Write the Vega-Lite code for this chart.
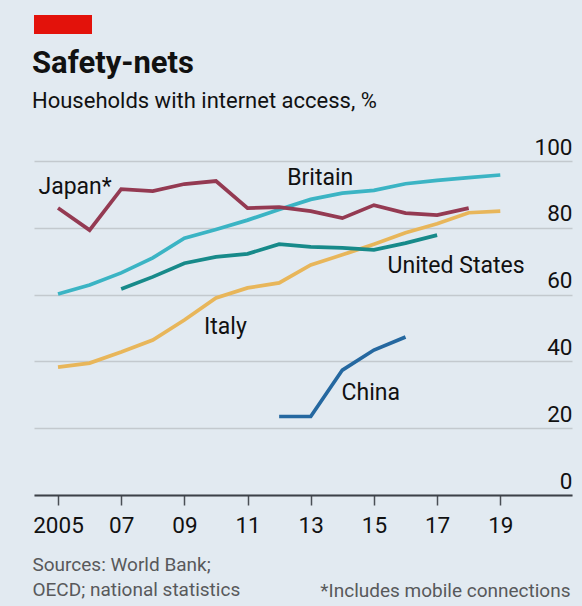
{
  "$schema": "https://vega.github.io/schema/vega-lite/v6.json",
  "background": "#e2eaf1",
  "padding": {"left": 32, "top": 15, "right": 10, "bottom": 6},
  "spacing": 14,
  "config": {"view": {"stroke": null}, "font": "Roboto"},
  "datasets": {
    "series": [
      {"country": "Italy", "year": 2005, "value": 38.3},
      {"country": "Italy", "year": 2006, "value": 39.5},
      {"country": "Italy", "year": 2007, "value": 42.8},
      {"country": "Italy", "year": 2008, "value": 46.4},
      {"country": "Italy", "year": 2009, "value": 52.4},
      {"country": "Italy", "year": 2010, "value": 59.0},
      {"country": "Italy", "year": 2011, "value": 62.0},
      {"country": "Italy", "year": 2012, "value": 63.5},
      {"country": "Italy", "year": 2013, "value": 68.9},
      {"country": "Italy", "year": 2014, "value": 71.9},
      {"country": "Italy", "year": 2015, "value": 75.1},
      {"country": "Italy", "year": 2016, "value": 78.5},
      {"country": "Italy", "year": 2017, "value": 81.2},
      {"country": "Italy", "year": 2018, "value": 84.5},
      {"country": "Italy", "year": 2019, "value": 85.0},
      {"country": "Britain", "year": 2005, "value": 60.2},
      {"country": "Britain", "year": 2006, "value": 62.9},
      {"country": "Britain", "year": 2007, "value": 66.5},
      {"country": "Britain", "year": 2008, "value": 71.0},
      {"country": "Britain", "year": 2009, "value": 76.9},
      {"country": "Britain", "year": 2010, "value": 79.5},
      {"country": "Britain", "year": 2011, "value": 82.3},
      {"country": "Britain", "year": 2012, "value": 85.5},
      {"country": "Britain", "year": 2013, "value": 88.5},
      {"country": "Britain", "year": 2014, "value": 90.4},
      {"country": "Britain", "year": 2015, "value": 91.2},
      {"country": "Britain", "year": 2016, "value": 93.2},
      {"country": "Britain", "year": 2017, "value": 94.2},
      {"country": "Britain", "year": 2018, "value": 95.0},
      {"country": "Britain", "year": 2019, "value": 95.8},
      {"country": "United States", "year": 2007, "value": 61.7},
      {"country": "United States", "year": 2008, "value": 65.3},
      {"country": "United States", "year": 2009, "value": 69.4},
      {"country": "United States", "year": 2010, "value": 71.3},
      {"country": "United States", "year": 2011, "value": 72.2},
      {"country": "United States", "year": 2012, "value": 75.1},
      {"country": "United States", "year": 2013, "value": 74.3},
      {"country": "United States", "year": 2014, "value": 74.0},
      {"country": "United States", "year": 2015, "value": 73.4},
      {"country": "United States", "year": 2016, "value": 75.4},
      {"country": "United States", "year": 2017, "value": 77.8},
      {"country": "Japan", "year": 2005, "value": 85.9},
      {"country": "Japan", "year": 2006, "value": 79.3},
      {"country": "Japan", "year": 2007, "value": 91.6},
      {"country": "Japan", "year": 2008, "value": 91.0},
      {"country": "Japan", "year": 2009, "value": 93.1},
      {"country": "Japan", "year": 2010, "value": 94.0},
      {"country": "Japan", "year": 2011, "value": 85.9},
      {"country": "Japan", "year": 2012, "value": 86.2},
      {"country": "Japan", "year": 2013, "value": 85.0},
      {"country": "Japan", "year": 2014, "value": 82.9},
      {"country": "Japan", "year": 2015, "value": 86.8},
      {"country": "Japan", "year": 2016, "value": 84.4},
      {"country": "Japan", "year": 2017, "value": 83.8},
      {"country": "Japan", "year": 2018, "value": 85.9},
      {"country": "China", "year": 2012, "value": 23.5},
      {"country": "China", "year": 2013, "value": 23.5},
      {"country": "China", "year": 2014, "value": 37.4},
      {"country": "China", "year": 2015, "value": 43.4},
      {"country": "China", "year": 2016, "value": 47.3}
    ],
    "labels": [
      {"label": "Japan*", "year": 2005.54, "value": 92.2},
      {"label": "Britain", "year": 2013.3, "value": 94.9},
      {"label": "United States", "year": 2017.6, "value": 68.5},
      {"label": "Italy", "year": 2010.3, "value": 50.3},
      {"label": "China", "year": 2014.9, "value": 30.5}
    ],
    "stripe": [{"part": "red"}]
  },
  "vconcat": [
    {
      "width": 58,
      "height": 19,
      "data": {"name": "stripe"},
      "mark": {"type": "rect", "color": "#e3120b"},
      "encoding": {}
    },
    {
      "width": 538,
      "height": 334,
      "title": {
        "text": "Safety-nets",
        "subtitle": "Households with internet access, %",
        "anchor": "start",
        "frame": "group",
        "dx": -2,
        "font": "Roboto",
        "fontSize": 31,
        "fontWeight": "bold",
        "color": "#111111",
        "subtitleFont": "Roboto",
        "subtitleFontSize": 22,
        "subtitleColor": "#111111",
        "subtitlePadding": 11,
        "offset": 23
      },
      "layer": [
        {
          "data": {"name": "series"},
          "mark": {"type": "line", "strokeWidth": 3.7, "strokeCap": "butt"},
          "encoding": {
            "x": {
              "field": "year",
              "type": "quantitative",
              "scale": {"domain": [2004.24, 2021.27], "nice": false, "zero": false},
              "axis": {
                "values": [2005, 2006, 2007, 2008, 2009, 2010, 2011, 2012, 2013, 2014, 2015, 2016, 2017, 2018, 2019],
                "labelExpr": "datum.value == 2005 ? '2005' : (datum.value % 2 == 1 ? substring(toString(datum.value), 2, 4) : '')",
                "grid": false,
                "domainColor": "#3c4148",
                "domainWidth": 2,
                "tickColor": "#4a4f55",
                "tickWidth": 1.5,
                "tickSize": {"condition": {"test": "datum.value % 2 == 1", "value": 10}, "value": 6},
                "labelFont": "Roboto",
                "labelFontSize": 22.5,
                "labelColor": "#111111",
                "labelPadding": 9,
                "labelOverlap": false,
                "labelFlush": false,
                "title": ["Sources: World Bank;", "OECD; national statistics"],
                "titleFont": "Roboto",
                "titleFontSize": 19,
                "titleFontWeight": "normal",
                "titleColor": "#58595b",
                "titleAnchor": "start",
                "titleAlign": "left",
                "titleBaseline": "top",
                "titleLineHeight": 25,
                "titleX": -2,
                "titleY": 60
              }
            },
            "y": {
              "field": "value",
              "type": "quantitative",
              "scale": {"domain": [0, 100], "nice": false},
              "axis": {
                "orient": "right",
                "values": [0, 20, 40, 60, 80, 100],
                "grid": true,
                "gridColor": "#c3c9ce",
                "gridWidth": 1.5,
                "domain": false,
                "ticks": false,
                "tickSize": 0,
                "labelAlign": "right",
                "labelBaseline": "bottom",
                "labelPadding": 0,
                "labelOffset": -2,
                "labelFont": "Roboto",
                "labelFontSize": 22.5,
                "labelColor": "#111111",
                "title": "*Includes mobile connections",
                "titleFont": "Roboto",
                "titleFontSize": 19,
                "titleFontWeight": "normal",
                "titleColor": "#58595b",
                "titleAngle": 0,
                "titleAlign": "right",
                "titleBaseline": "top",
                "titleX": -2,
                "titleY": 420
              }
            },
            "color": {
              "field": "country",
              "type": "nominal",
              "scale": {
                "domain": ["Italy", "Britain", "United States", "Japan", "China"],
                "range": ["#e8b65a", "#3bb4c4", "#178a8a", "#943a52", "#2568a0"]
              },
              "legend": null
            }
          }
        },
        {
          "data": {"name": "labels"},
          "mark": {"type": "text", "font": "Roboto", "fontSize": 23, "color": "#111111", "align": "center", "baseline": "middle"},
          "encoding": {
            "x": {"field": "year", "type": "quantitative", "scale": {"domain": [2004.24, 2021.27], "nice": false, "zero": false}},
            "y": {"field": "value", "type": "quantitative", "scale": {"domain": [0, 100], "nice": false}},
            "text": {"field": "label", "type": "nominal"}
          }
        }
      ]
    }
  ]
}
